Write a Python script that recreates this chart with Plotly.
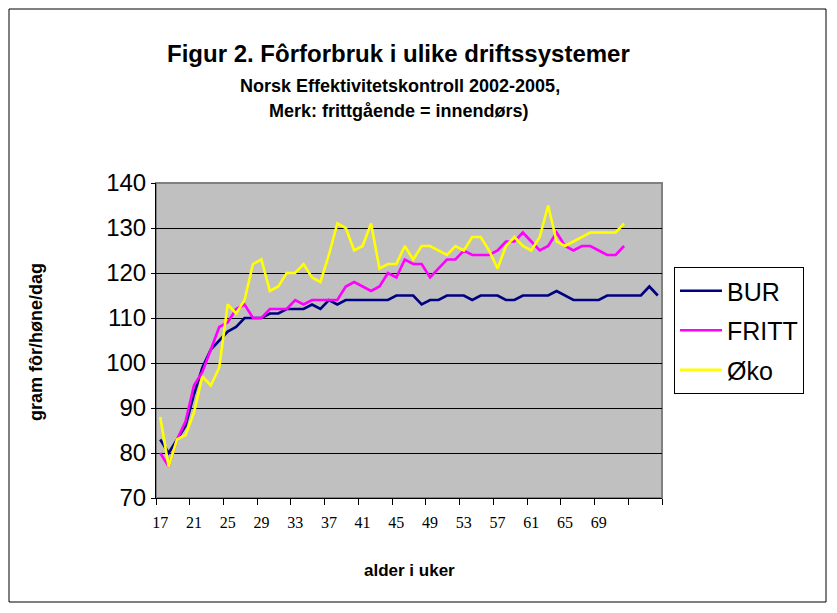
import plotly.graph_objects as go

weeks = list(range(17, 77))
bur = [83, 80, 83, 86, 93, 99, 103, 105, 107, 108,
       110, 110, 110, 111, 111, 112, 112, 112, 113, 112,
       114, 113, 114, 114, 114, 114, 114, 114, 115, 115,
       115, 113, 114, 114, 115, 115, 115, 114, 115, 115,
       115, 114, 114, 115, 115, 115, 115, 116, 115, 114,
       114, 114, 114, 115, 115, 115, 115, 115, 117, 115]
fritt = [80, 77, 83, 87, 95, 98, 103, 108, 109, 112,
         113, 110, 110, 112, 112, 112, 114, 113, 114, 114,
         114, 114, 117, 118, 117, 116, 117, 120, 119, 123,
         122, 122, 119, 121, 123, 123, 125, 124, 124, 124,
         125, 127, 127, 129, 127, 125, 126, 129, 126, 125,
         126, 126, 125, 124, 124, 126]
oko = [88, 77, 83, 84, 89, 97, 95, 99, 113, 111,
       114, 122, 123, 116, 117, 120, 120, 122, 119, 118,
       124, 131, 130, 125, 126, 131, 121, 122, 122, 126,
       123, 126, 126, 125, 124, 126, 125, 128, 128, 125,
       121, 126, 128, 126, 125, 128, 135, 127, 126, 127,
       128, 129, 129, 129, 129, 131]
tick_labels = [str(w) for w in range(17, 73, 4)]

names = ["BUR", "FRITT", "Øko"]
colors = ["#000080", "#FF00FF", "#FFFF00"]
series = [bur, fritt, oko]

# page body has an 8px margin; work in window pixels and shift
OFF = 8
W, H = 837 - OFF, 613 - OFF
L, R, T, B = 156, 662, 183, 498   # plot area in window pixels
pw, ph = R - L, B - T

def px(x):
    return (x - L) / pw

def py(y):
    return (B - y) / ph

fig = go.Figure()
for name, col, vals in zip(names, colors, series):
    fig.add_trace(go.Scatter(
        x=weeks[:len(vals)], y=vals, mode="lines", name=name,
        line=dict(color=col, width=2.6), legendgroup=name,
    ))

fig.update_layout(
    width=W, height=H,
    margin=dict(l=L - OFF, r=837 - R, t=T - OFF, b=613 - B),
    paper_bgcolor="white",
    plot_bgcolor="#C0C0C0",
    showlegend=True,
    legend=dict(
        x=px(674), y=py(267), xanchor="left", yanchor="top",
        bordercolor="black", borderwidth=1, bgcolor="white",
        font=dict(family="Liberation Sans, Arial", size=25, color="black"),
        tracegroupgap=4,
        itemwidth=42,
    ),
    xaxis=dict(
        range=[16.5, 76.5],
        tickmode="array",
        tickvals=list(range(17, 73, 4)),
        ticktext=tick_labels,
        ticks="",
        ticklabelstandoff=10,
        tickfont=dict(family="Liberation Serif, Times New Roman", size=16, color="black"),
        showgrid=False,
        showline=True, linecolor="black", linewidth=1,
        zeroline=False,
        minor=dict(tick0=16.5, dtick=4, ticks="outside", ticklen=6,
                   tickcolor="black", tickwidth=1, showgrid=False),
    ),
    yaxis=dict(
        range=[70, 140],
        tickmode="linear", tick0=70, dtick=10,
        ticks="outside", ticklen=4, tickcolor="black",
        tickfont=dict(family="Liberation Sans, Arial", size=24, color="black"),
        showgrid=True, gridcolor="black", gridwidth=1,
        showline=True, linecolor="black", linewidth=1,
        zeroline=False,
    ),
)

# plot area border (gray)
fig.add_shape(type="rect", xref="paper", yref="paper", x0=0, y0=0, x1=1, y1=1,
              line=dict(color="#808080", width=2), layer="below")
# outer chart border
fig.add_shape(type="rect", xref="paper", yref="paper",
              x0=px(9), x1=px(826), y0=py(602), y1=py(9),
              line=dict(color="black", width=1))

ann_font = "Liberation Sans, Arial"
fig.add_annotation(text="<b>Figur 2. Fôrforbruk i ulike driftssystemer</b>",
                   xref="paper", yref="paper", x=px(398), y=py(54),
                   showarrow=False, xanchor="center", yanchor="middle",
                   font=dict(family=ann_font, size=24, color="black"))
fig.add_annotation(text="<b>Norsk Effektivitetskontroll 2002-2005,</b>",
                   xref="paper", yref="paper", x=px(400), y=py(86),
                   showarrow=False, xanchor="center", yanchor="middle",
                   font=dict(family=ann_font, size=18, color="black"))
fig.add_annotation(text="<b>Merk: frittgående = innendørs)</b>",
                   xref="paper", yref="paper", x=px(399), y=py(111),
                   showarrow=False, xanchor="center", yanchor="middle",
                   font=dict(family=ann_font, size=18, color="black"))
fig.add_annotation(text="<b>gram fôr/høne/dag</b>",
                   xref="paper", yref="paper", x=px(36), y=py(342),
                   showarrow=False, xanchor="center", yanchor="middle",
                   textangle=-90,
                   font=dict(family=ann_font, size=18, color="black"))
fig.add_annotation(text="<b>alder i uker</b>",
                   xref="paper", yref="paper", x=px(409), y=py(570),
                   showarrow=False, xanchor="center", yanchor="middle",
                   font=dict(family=ann_font, size=17, color="black"))

fig.write_html("out.html")
